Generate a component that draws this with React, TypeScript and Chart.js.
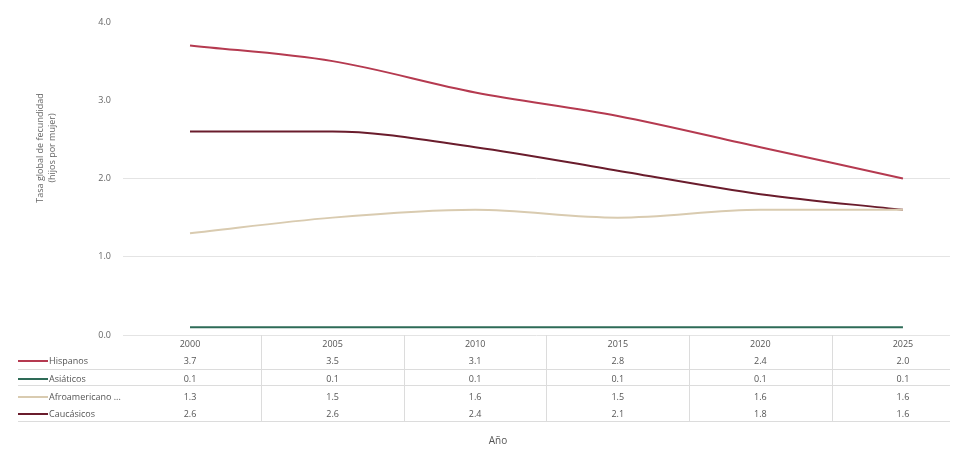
import React, { useEffect, useRef } from "react";
import { Chart, registerables } from "chart.js";

Chart.register(...registerables);

const years = ["2000", "2005", "2010", "2015", "2020", "2025"];
const seriesNames = ["Hispanos", "Asiáticos", "Afroamericanos no hispanos", "Caucásicos"];
const hispanos = [3.7, 3.5, 3.1, 2.8, 2.4, 2.0];
const asiaticos = [0.1, 0.1, 0.1, 0.1, 0.1, 0.1];
const afro = [1.3, 1.5, 1.6, 1.5, 1.6, 1.6];
const caucasicos = [2.6, 2.6, 2.4, 2.1, 1.8, 1.6];
const yTicks = [0, 1, 2, 3, 4];
const yTitle = ["Tasa global de fecundidad", "(hijos por mujer)"];
const colors = ["#b53a50", "#2e6b57", "#d9cbb0", "#6a1c2c"];
const FONT = "'Open Sans', sans-serif";

export default function App() {
  const ref = useRef<HTMLCanvasElement | null>(null);
  useEffect(() => {
    document.body.style.margin = "0";
    const values = [hispanos, asiaticos, afro, caucasicos];
    const tablePlugin = {
      id: "tablePlugin",
      afterDraw(chart: any) {
        const ctx = chart.ctx;
        const xs = chart.scales.x;
        const area = chart.chartArea;
        const top = area.bottom;
        const headerY = top + 9;
        const rowY = [top + 26, top + 44, top + 62, top + 79];
        const pos = years.map((_, i) => xs.getPixelForValue(i));
        const step = pos[1] - pos[0];
        ctx.save();
        // y title
        ctx.save();
        ctx.font = `9px ${FONT}`;
        ctx.fillStyle = "#666";
        ctx.textAlign = "center";
        ctx.textBaseline = "middle";
        ctx.translate(0, 148);
        ctx.rotate(-Math.PI / 2);
        ctx.fillText(yTitle[0], 0, 40);
        ctx.fillText(yTitle[1], 0, 52);
        ctx.restore();

        ctx.font = `9px ${FONT}`;
        ctx.fillStyle = "#555";
        ctx.textAlign = "center";
        ctx.textBaseline = "middle";
        years.forEach((y, i) => ctx.fillText(y, pos[i], headerY));
        ctx.strokeStyle = "#dcdcdc";
        ctx.lineWidth = 1;
        const lines = [top + 34, top + 50, top + 86];
        lines.forEach((ly) => {
          ctx.beginPath();
          ctx.moveTo(18, Math.round(ly) + 0.5);
          ctx.lineTo(area.right, Math.round(ly) + 0.5);
          ctx.stroke();
        });
        for (let i = 0; i < years.length - 1; i++) {
          const vx = Math.round(pos[i] + step / 2) + 0.5;
          ctx.beginPath();
          ctx.moveTo(vx, top);
          ctx.lineTo(vx, top + 86);
          ctx.stroke();
        }
        values.forEach((vals, r) => {
          const ry = rowY[r];
          ctx.strokeStyle = colors[r];
          ctx.lineWidth = 2;
          ctx.beginPath();
          ctx.moveTo(18, ry);
          ctx.lineTo(48, ry);
          ctx.stroke();
          ctx.fillStyle = "#555";
          ctx.textAlign = "left";
          let name = seriesNames[r];
          const maxW = 75;
          if (ctx.measureText(name).width > maxW) {
            while (ctx.measureText(name + " ...").width > maxW) name = name.slice(0, -1);
            name = name + " ...";
          }
          ctx.fillText(name, 49, ry);
          ctx.textAlign = "center";
          vals.forEach((v, i) => ctx.fillText(v.toFixed(1), pos[i], ry));
        });
        ctx.font = `10px ${FONT}`;
        ctx.fillStyle = "#555";
        ctx.fillText("Año", 498, top + 106);
        ctx.restore();
      },
    };
    const chart = new Chart(ref.current as HTMLCanvasElement, {
      type: "line",
      data: {
        datasets: values.map((vals, r) => ({
          label: seriesNames[r],
          data: vals.map((v, i) => ({ x: i, y: v })),
          borderColor: colors[r],
          backgroundColor: colors[r],
          borderWidth: 2,
          pointRadius: 0,
          tension: 0.4,
          cubicInterpolationMode: "monotone" as const,
          fill: false,
        })),
      },
      options: {
        animation: false,
        responsive: false,
        maintainAspectRatio: false,
        layout: { padding: { left: 0, right: 14, top: 22, bottom: 114 } },
        plugins: { legend: { display: false }, tooltip: { enabled: false } },
        scales: {
          x: {
            type: "linear",
            min: -0.47,
            max: 5.33,
            display: false,
          },
          y: {
            min: 0,
            max: 4,
            afterBuildTicks: (s: any) => {
              s.ticks = yTicks.map((v) => ({ value: v }));
            },
            afterFit: (s: any) => {
              s.width = 123;
            },
            border: { display: false },
            grid: {
              color: (c: any) => (c.tick && c.tick.value >= 3 ? "rgba(0,0,0,0)" : "#e4e4e4"),
              drawTicks: false,
            },
            ticks: {
              color: "#666",
              font: { size: 9, family: FONT },
              padding: 12,
              callback: (v: any) => Number(v).toFixed(1),
            },
          },
        },
      },
      plugins: [tablePlugin],
    });
    return () => chart.destroy();
  }, []);
  return <canvas ref={ref} width={964} height={449} style={{ display: "block" }} />;
}
